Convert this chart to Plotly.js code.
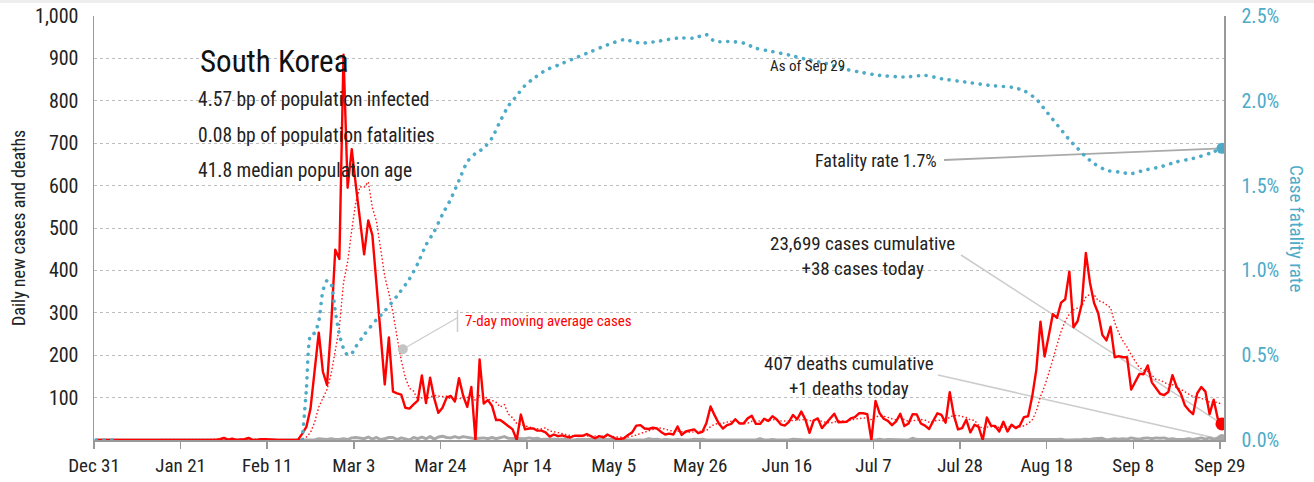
<!DOCTYPE html>
<html><head><meta charset="utf-8">
<script src="https://cdn.plot.ly/plotly-3.0.1.min.js"></script>
<style>
html,body{margin:0;padding:0;background:#fff;}
#chart{width:1314px;height:482px;}
.scatterlayer path.js-line{stroke-linecap:round;stroke-linejoin:round;}
</style></head><body><div id="chart"></div>
<script>
// ---------------- DATA ----------------
// daily new cases, 2019-12-31 .. 2020-09-29
const casesDec = [0];
const casesJan = [0,0,0,0,0,0,0,0,0,0, 0,0,0,0,0,0,0,0,0,1, 0,0,0,1,0,1,1,0,0,2, 5];
const casesFeb = [1,3,0,1,2,5,0,0,2,2, 1,0,0,0,0,1,1,1,15,31, 74,170,253,161,130,270,449,427,909];
const casesMar = [595,686,600,516,438,518,483,367,248,131, 242,114,110,107,76,74,84,93,152,87, 147,98,64,76,100,104,91,146,105,78, 125];
const casesApr = [0,190,86,94,81,47,47,40,32,25, 0,60,25,27,27,22,22,18,8,13, 9,11,8,6,10,10,10,14,9,4];
const casesMay = [9,6,13,8,3,2,4,12,18,34, 35,27,26,29,27,19,13,15,13,32, 12,20,23,25,16,19,40,79,58,39, 27];
const casesJun = [35,38,49,39,39,51,57,38,38,50, 45,56,49,37,34,43,59,49,67,48, 17,46,51,28,39,51,62,42,42,43];
const casesJul = [51,54,63,63,61,0,92,63,50,45, 35,44,62,33,39,61,60,39,34,26, 45,63,59,41,113,58,25,28,48,18, 36];
const casesAug = [31,0,53,34,33,20,43,20,36,28, 34,54,56,103,166,279,197,246,297,288, 324,332,397,266,280,320,441,371,323,299, 248];
const casesSep = [235,267,195,198,195,195,119,136,156,155, 176,136,121,109,106,113,153,126,110,82, 70,61,110,125,114,61,95,50,38];

// daily deaths, same dates
const deathsDec = [0];
const deathsJan = [0,0,0,0,0,0,0,0,0,0, 0,0,0,0,0,0,0,0,0,0, 0,0,0,0,0,0,0,0,0,0, 0];
const deathsFeb = [0,0,0,0,0,0,0,0,0,0, 0,0,0,0,0,0,0,0,0,1, 1,0,3,2,1,3,1,1,3];
const deathsMar = [1,5,6,4,3,7,2,6,1,3, 6,6,1,5,3,0,6,3,7,3, 8,2,7,9,6,5,8,5,8,6, 4];
const deathsApr = [3,4,5,3,6,3,6,8,4,4, 3,3,3,5,3,4,1,2,2,2, 1,1,2,0,0,2,1,1,2,1];
const deathsMay = [1,2,2,2,1,0,1,0,0,0, 0,0,3,1,2,0,1,0,0,1, 0,0,0,2,1,2,0,0,0,0, 1];
const deathsJun = [1,1,1,0,0,0,0,0,3,0, 0,1,0,0,0,0,2,1,0,0, 0,0,0,1,0,1,0,0,0,0];
const deathsJul = [0,0,1,1,1,0,0,2,0,1, 1,0,0,0,0,4,1,1,1,0, 1,0,0,1,0,1,0,0,1,0, 0];
const deathsAug = [0,1,0,0,1,0,1,1,0,0, 1,0,0,0,0,0,0,1,0,1, 2,0,0,0,0,1,2,1,3,4, 4];
const deathsSep = [0,2,3,2,3,2,5,3,2,4, 5,3,5,4,5,2,3,1,1,2, 3,1,3,5,2,5,1,5,1];

// case fatality rate (%)
const cfrDates = ['2019-12-31','2020-01-02','2020-01-04','2020-01-05','2020-01-06',
 '2020-02-19','2020-02-20','2020-02-21','2020-02-22','2020-02-23','2020-02-24','2020-02-25','2020-02-26','2020-02-27','2020-02-28','2020-02-29',
 '2020-03-01','2020-03-02','2020-03-03','2020-03-05','2020-03-08','2020-03-10','2020-03-13','2020-03-16','2020-03-18','2020-03-20','2020-03-22','2020-03-24','2020-03-26','2020-03-28','2020-03-30',
 '2020-04-01','2020-04-03','2020-04-05','2020-04-07','2020-04-09','2020-04-11','2020-04-13','2020-04-15','2020-04-18','2020-04-21','2020-04-25','2020-04-29',
 '2020-05-03','2020-05-07','2020-05-11','2020-05-15','2020-05-20','2020-05-24','2020-05-27','2020-05-29',
 '2020-06-02','2020-06-05','2020-06-08','2020-06-12','2020-06-16','2020-06-21','2020-06-25','2020-06-29',
 '2020-07-03','2020-07-08','2020-07-14','2020-07-19','2020-07-23','2020-07-29',
 '2020-08-04','2020-08-09','2020-08-12','2020-08-15','2020-08-17','2020-08-19','2020-08-21','2020-08-23','2020-08-25','2020-08-27','2020-08-29',
 '2020-09-01','2020-09-04','2020-09-07','2020-09-10','2020-09-14','2020-09-18','2020-09-22','2020-09-26','2020-09-29'];
const cfrValues = [0,0,0,0,null,
 0.00,0.30,0.62,0.63,0.70,0.88,0.94,0.92,0.76,0.62,0.54,
 0.50,0.51,0.55,0.62,0.71,0.76,0.85,0.95,1.04,1.15,1.23,1.33,1.42,1.53,1.64,
 1.69,1.72,1.78,1.88,1.97,2.03,2.09,2.13,2.18,2.21,2.25,2.29,
 2.33,2.36,2.34,2.35,2.37,2.37,2.39,2.35,
 2.35,2.34,2.31,2.29,2.27,2.24,2.22,2.19,
 2.17,2.15,2.14,2.15,2.13,2.11,
 2.09,2.08,2.06,2.01,1.95,1.89,1.83,1.77,1.72,1.67,1.63,
 1.59,1.58,1.57,1.59,1.61,1.64,1.66,1.69,1.72];

const leftTicks = [100,200,300,400,500,600,700,800,900,1000];
const rightTicks = [0,0.005,0.01,0.015,0.02,0.025];

const titleText = 'South Korea';
const statLines = ['4.57 bp of population infected','0.08 bp of population fatalities','41.8 median population age'];
const casesNote = '23,699 cases cumulative<br>+38 cases today';
const deathsNote = '407 deaths cumulative<br>+1 deaths today';
const cfrNote = 'Fatality rate 1.7%';
const asOfNote = 'As of Sep 29';
const maNote = '7-day moving average cases';
const maDot = {x: '2020-03-14 21:00', y: 214};

// ---------------- BUILD ----------------
const dailyCases = [].concat(casesDec,casesJan,casesFeb,casesMar,casesApr,casesMay,casesJun,casesJul,casesAug,casesSep);
const dailyDeaths = [].concat(deathsDec,deathsJan,deathsFeb,deathsMar,deathsApr,deathsMay,deathsJun,deathsJul,deathsAug,deathsSep);
const DAY = 864e5;
const T0 = Date.UTC(2019,11,31);
const TEND = Date.UTC(2020,8,30);
function dateStr(ms){ return new Date(ms).toISOString().slice(0,19).replace('T',' '); }
const xDates = dailyCases.map((_, i) => dateStr(T0 + i*DAY + DAY/2));
const ma7 = dailyCases.map((_, i) => { const s = Math.max(0,i-6); let sum=0; for(let k=s;k<=i;k++) sum+=dailyCases[k]; return sum/(i-s+1); });
const cfrX = cfrDates.map(d => d + ' 12:00');
const cfrY = cfrValues.map(v => v === null ? null : v/100);
const last = dailyCases.length - 1;

const TEAL = '#4dabc8';
const F = "'Roboto Condensed','Liberation Sans Narrow','DejaVu Sans Condensed','Arial Narrow',sans-serif";
const PL=94, PR=1224, PT=16, PB=440;
function px2x(px){ return dateStr(T0 + (px-PL)/(PR-PL)*(TEND-T0)); }
function py2y(py){ return (PB-py)/(PB-PT)*1000; }
function xp(px){ return (px-PL)/(PR-PL); }
function yp(py){ return (PB-py)/(PB-PT); }

const traces = [
 {x:xDates, y:dailyDeaths, type:'scatter', mode:'lines', line:{color:'#a8a8a8', width:3}, hoverinfo:'skip'},
 {x:xDates, y:ma7, type:'scatter', mode:'lines', line:{color:'#ff1a1a', width:1.6, dash:'0.1px,3.6px'}, hoverinfo:'skip'},
 {x:xDates, y:dailyCases, type:'scatter', mode:'lines', line:{color:'#ff0000', width:2.4}, hoverinfo:'skip'},
 {x:[maDot.x], y:[maDot.y], type:'scatter', mode:'markers', marker:{color:'#c4c4c4', size:10}, hoverinfo:'skip'},
 {x:[xDates[last]], y:[dailyDeaths[last]], type:'scatter', mode:'markers', marker:{color:'#a8a8a8', size:11}, hoverinfo:'skip'},
 {x:[xDates[last]], y:[dailyCases[last]], type:'scatter', mode:'markers', marker:{color:'#ff0000', size:13}, hoverinfo:'skip'},
 {x:cfrX, y:cfrY, yaxis:'y2', type:'scatter', mode:'lines', line:{color:TEAL, width:3.6, dash:'0.1px,7.7px', shape:'spline', smoothing:0.6}, connectgaps:false, hoverinfo:'skip'},
 {x:[cfrX[cfrX.length-1]], y:[cfrY[cfrY.length-1]], yaxis:'y2', type:'scatter', mode:'markers', marker:{color:TEAL, size:11}, hoverinfo:'skip'}
];

const lastCfrOnY1 = cfrValues[cfrValues.length-1]/2.5*1000;
const shapes = [
 {type:'rect', xref:'paper', yref:'paper', x0:xp(0), x1:xp(1314), y0:yp(3), y1:yp(0), fillcolor:'#eeeeee', line:{width:0}, layer:'above'},
 {type:'line', xref:'x', yref:'y', layer:'between', x0:px2x(961), y0:py2y(255), x1:xDates[last], y1:dailyCases[last], line:{color:'#cccccc', width:1.6}},
 {type:'line', xref:'x', yref:'y', layer:'between', x0:px2x(938), y0:py2y(375), x1:xDates[last], y1:dailyDeaths[last], line:{color:'#cccccc', width:1.6}},
 {type:'line', xref:'x', yref:'y', layer:'between', x0:px2x(944), y0:py2y(160), x1:cfrX[cfrX.length-1], y1:lastCfrOnY1, line:{color:'#aaaaaa', width:1.8}},
 {type:'line', xref:'x', yref:'y', layer:'between', x0:maDot.x, y0:maDot.y, x1:px2x(457), y1:py2y(318), line:{color:'#cccccc', width:1.2}},
 {type:'line', xref:'x', yref:'y', layer:'between', x0:px2x(457.5), y0:py2y(310), x1:px2x(457.5), y1:py2y(332), line:{color:'#cccccc', width:1.5}}
];

const ann = [
 {text:titleText, x:xp(198), y:yp(61), xanchor:'left', yanchor:'middle', font:{family:F, size:31, color:'#111'}},
 {text:statLines[0], x:xp(196), y:yp(100), xanchor:'left', yanchor:'middle', font:{family:F, size:19.5, color:'#222'}},
 {text:statLines[1], x:xp(196), y:yp(135), xanchor:'left', yanchor:'middle', font:{family:F, size:19.5, color:'#222'}},
 {text:statLines[2], x:xp(196), y:yp(170), xanchor:'left', yanchor:'middle', font:{family:F, size:19.5, color:'#222'}},
 {text:maNote, x:xp(463), y:yp(321), xanchor:'left', yanchor:'middle', font:{family:F, size:15, color:'#ff0000'}},
 {text:asOfNote, x:xp(807), y:yp(66), xanchor:'center', yanchor:'middle', font:{family:F, size:15, color:'#222'}},
 {text:cfrNote, x:xp(939), y:yp(160), xanchor:'right', yanchor:'middle', font:{family:F, size:18, color:'#222'}},
 {text:casesNote, x:xp(862), y:yp(256), xanchor:'center', yanchor:'middle', font:{family:F, size:19, color:'#222'}},
 {text:deathsNote, x:xp(849), y:yp(376), xanchor:'center', yanchor:'middle', font:{family:F, size:19, color:'#222'}},
 {text:'Daily new cases and deaths', x:xp(18), y:yp(228), xanchor:'center', yanchor:'middle', textangle:-90, font:{family:F, size:18, color:'#222'}},
 {text:'Case fatality rate', x:xp(1297), y:yp(228), xanchor:'center', yanchor:'middle', textangle:90, font:{family:F, size:19, color:TEAL}}
].map(a => Object.assign({xref:'paper', yref:'paper', showarrow:false}, a));

const layout = {
 width:1314, height:482,
 margin:{l:PL, r:1314-PR, t:PT, b:482-PB},
 paper_bgcolor:'#ffffff', plot_bgcolor:'#ffffff',
 showlegend:false,
 font:{family:F, size:17, color:'#222'},
 xaxis:{type:'date', range:[dateStr(T0), dateStr(TEND)], tickmode:'linear', tick0:dateStr(T0), dtick:21*DAY,
   tickformat:'%b %-d', ticks:'outside', ticklen:7, tickwidth:1.5, tickcolor:'#999', showline:true, linecolor:'#999', linewidth:2,
   showgrid:false, zeroline:false, tickfont:{family:F, size:19, color:'#222'}, fixedrange:true},
 yaxis:{range:[0,1000], tickmode:'array', tickvals:leftTicks, tickformat:',d', ticks:'', showline:true, linecolor:'#999', linewidth:1.5,
   showgrid:true, gridcolor:'#bdbdbd', griddash:'dot', gridwidth:1, zeroline:false, ticklabelstandoff:10,
   tickfont:{family:F, size:20, color:'#222'}, fixedrange:true},
 yaxis2:{range:[0,0.025], overlaying:'y', side:'right', tickmode:'array', tickvals:rightTicks, tickformat:'.1%', ticks:'',
   showline:true, linecolor:'#999', linewidth:1.5, showgrid:false, zeroline:false, ticklabelstandoff:12,
   tickfont:{family:F, size:20, color:TEAL}, fixedrange:true},
 shapes:shapes,
 annotations:ann
};

Plotly.newPlot('chart', traces, layout, {displayModeBar:false, staticPlot:true});
</script>
</body></html>
